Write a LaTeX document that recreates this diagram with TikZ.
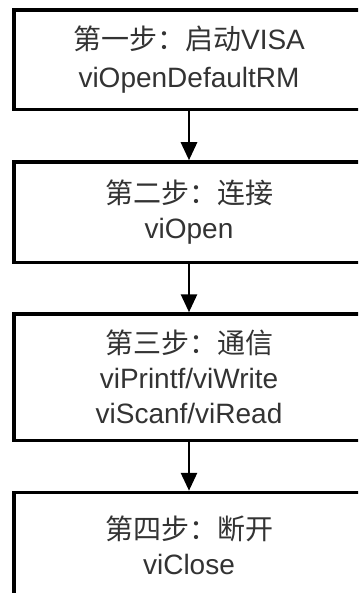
\documentclass[tikz,border=0pt]{standalone}
\usepackage{fontspec}
\setmainfont{Liberation Sans}
\newfontfamily\cjk{Noto Sans CJK SC}
\usetikzlibrary{arrows.meta}
\definecolor{txtgray}{HTML}{333333}
\begin{document}
\begin{tikzpicture}[x=1bp,y=-1bp,
  stepbox/.style={draw=black, line width=3.5bp, minimum width=350.4bp, inner sep=0pt,
    align=center, text=txtgray, font=\fontsize{28bp}{35bp}\selectfont},
  flowarrow/.style={draw=black, line width=2.8bp, -{Triangle[width=16bp,length=18bp]}}]
\useasboundingbox (0,0) rectangle (358,593);
\clip (0,0) rectangle (358,593);
\fill[white] (0,0) rectangle (358,593);
\node[stepbox, minimum height=99.5bp, font=\fontsize{28bp}{38bp}\selectfont] (s1) at (189,59.75) {{\cjk 第一步：启动}VISA\\viOpenDefaultRM};
\node[stepbox, minimum height=100.5bp] (s2) at (189,212.25) {{\cjk 第二步：连接}\\viOpen};
\node[stepbox, minimum height=126.5bp] (s3) at (189,377.25) {{\cjk 第三步：通信}\\viPrintf/viWrite\\viScanf/viRead};
\node[stepbox, minimum height=105bp] (s4) at (189,545) {{\cjk 第四步：断开}\\viClose};
\draw[flowarrow] (s1.south) -- (s2.north);
\draw[flowarrow] (s2.south) -- (s3.north);
\draw[flowarrow] (s3.south) -- (s4.north);
\end{tikzpicture}
\end{document}
